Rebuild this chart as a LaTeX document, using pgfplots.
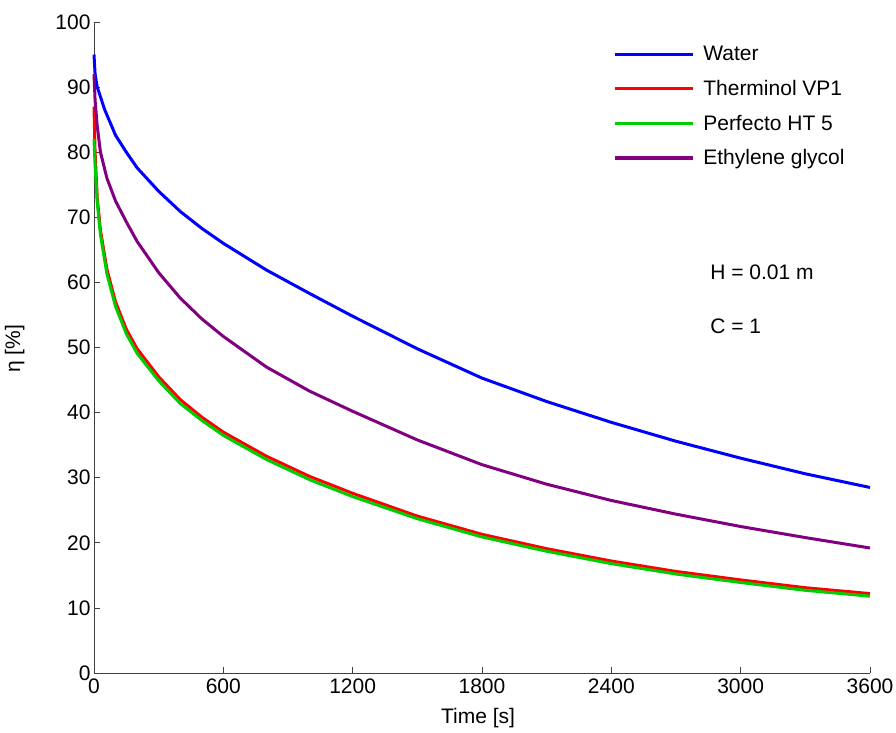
\documentclass[border=0pt]{standalone}
\usepackage{pgfplots}
\pgfplotsset{compat=1.18}
\usepackage{fontspec}
\setmainfont{Liberation Sans}
\definecolor{mgreen}{RGB}{0,205,0}
\definecolor{mpurple}{RGB}{128,0,128}
\begin{document}
\begin{tikzpicture}
\useasboundingbox (-94bp,-60bp) rectangle (802bp,673bp);
\begin{axis}[
  scale only axis, width=776bp, height=651bp,
  anchor=south west, at={(0,0)},
  xmin=0, xmax=3600, ymin=0, ymax=100,
  axis x line=bottom, axis y line=left,
  axis line style={-, black!75, line width=0.8bp},
  tick style={black!75, line width=0.8bp},
  tick align=inside, major tick length=6bp,
  xtick={0,600,...,3600}, ytick={0,10,...,100},
  /pgf/number format/assume math mode=true,
  /pgf/number format/1000 sep={},
  font=\fontsize{21bp}{25bp}\selectfont,
  ticklabel style={font=\fontsize{21bp}{25bp}\selectfont},
  xticklabel style={yshift=-2bp},
  xlabel={Time [s]}, ylabel={η [\%]},
  xlabel style={at={(axis description cs:0.495,0)}, anchor=north, yshift=-32bp},
  ylabel style={at={(axis description cs:0,0.498)}, anchor=south, yshift=66bp},
  clip=false,
  legend style={at={(rel axis cs:0.665,0.969)}, anchor=north west, draw=none, fill=none,
    font=\fontsize{21bp}{25bp}\selectfont, row sep=14bp},
  legend cell align=left,
  legend image code/.code={\draw[#1, line width=3.2bp] (0bp,0bp) -- (78bp,0bp); \path (85bp,0bp);},
]
\addplot[blue, line width=3bp] coordinates {
(0,95)(5,92)(15,90)(50,86.5)(100,82.6)(150,80)(200,77.6)(300,74)(400,70.9)(500,68.3)(600,66)(800,61.9)(1000,58.3)(1200,54.8)(1500,49.8)(1800,45.3)(2100,41.7)(2400,38.5)(2700,35.6)(3000,33)(3300,30.6)(3600,28.5)};
\addlegendentry{Water}
\addplot[red, line width=3bp] coordinates {
(0,87)(5,80)(15,73)(30,68)(60,62)(100,57)(150,52.8)(200,49.8)(300,45.5)(400,42)(500,39.3)(600,37)(800,33.3)(1000,30.2)(1200,27.6)(1500,24.1)(1800,21.3)(2100,19.1)(2400,17.2)(2700,15.6)(3000,14.3)(3300,13.1)(3600,12.2)};
\addlegendentry{Therminol VP1}
\addplot[mgreen, line width=3bp] coordinates {
(0,82)(5,78)(15,72.3)(30,67.3)(60,61.3)(100,56.3)(150,52.1)(200,49.1)(300,44.9)(400,41.4)(500,38.8)(600,36.5)(800,32.8)(1000,29.7)(1200,27.1)(1500,23.7)(1800,20.9)(2100,18.7)(2400,16.8)(2700,15.2)(3000,13.9)(3300,12.7)(3600,11.8)};
\addlegendentry{Perfecto HT 5}
\addplot[mpurple, line width=3bp] coordinates {
(0,92)(5,88)(15,84)(30,80)(60,76)(100,72.5)(150,69.3)(200,66.3)(300,61.5)(400,57.6)(500,54.4)(600,51.7)(800,47)(1000,43.3)(1200,40.2)(1500,35.8)(1800,32)(2100,29)(2400,26.5)(2700,24.4)(3000,22.5)(3300,20.8)(3600,19.2)};
\addlegendentry{Ethylene glycol}
\node[anchor=west, font=\fontsize{21bp}{25bp}\selectfont] at (axis cs:2843,61.6) {H = 0.01 m};
\node[anchor=west, font=\fontsize{21bp}{25bp}\selectfont] at (axis cs:2843,53.3) {C = 1};
\end{axis}
\end{tikzpicture}
\end{document}
